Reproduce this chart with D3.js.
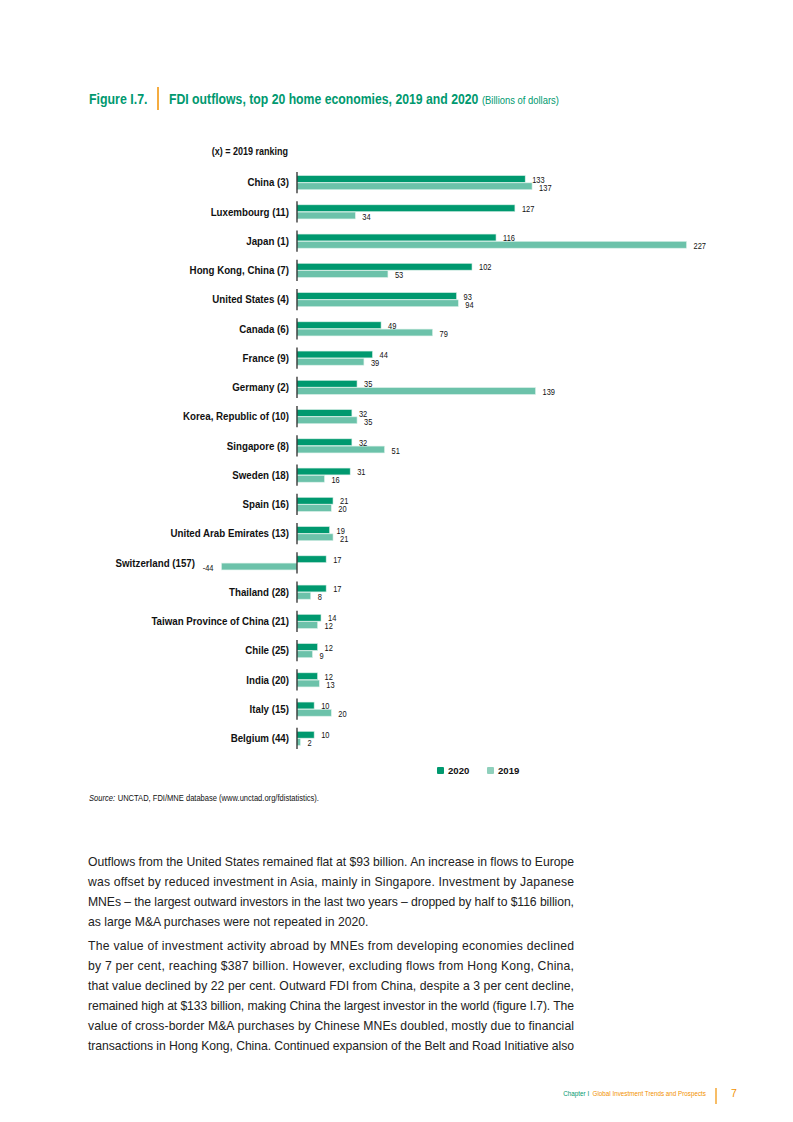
<!DOCTYPE html>
<html>
<head>
<meta charset="utf-8">
<script src="https://cdn.jsdelivr.net/npm/d3@7"></script>
<style>
  html, body { margin: 0; padding: 0; background: #fff; }
  svg { display: block; }
</style>
</head>
<body>
<svg id="page" width="793" height="1122"></svg>
<script>
const economies = [
  "China (3)", "Luxembourg (11)", "Japan (1)", "Hong Kong, China (7)", "United States (4)",
  "Canada (6)", "France (9)", "Germany (2)", "Korea, Republic of (10)", "Singapore (8)",
  "Sweden (18)", "Spain (16)", "United Arab Emirates (13)", "Switzerland (157)", "Thailand (28)",
  "Taiwan Province of China (21)", "Chile (25)", "India (20)", "Italy (15)", "Belgium (44)"
];
const values2020 = [133, 127, 116, 102, 93, 49, 44, 35, 32, 32, 31, 21, 19, 17, 17, 14, 12, 12, 10, 10];
const values2019 = [137, 34, 227, 53, 94, 79, 39, 139, 35, 51, 16, 20, 21, -44, 8, 12, 9, 13, 20, 2];
const seriesKeys = ["2020", "2019"];

// the second paragraph runs on to the next page, so its last line is justified too
const bodyParagraphs = [
  { ends: true, lines: [
    "Outflows from the United States remained flat at $93 billion. An increase in flows to Europe",
    "was offset by reduced investment in Asia, mainly in Singapore. Investment by Japanese",
    "MNEs \u2013 the largest outward investors in the last two years \u2013 dropped by half to $116 billion,",
    "as large M&A purchases were not repeated in 2020."
  ]},
  { ends: false, lines: [
    "The value of investment activity abroad by MNEs from developing economies declined",
    "by 7 per cent, reaching $387 billion. However, excluding flows from Hong Kong, China,",
    "that value declined by 22 per cent. Outward FDI from China, despite a 3 per cent decline,",
    "remained high at $133 billion, making China the largest investor in the world (figure I.7). The",
    "value of cross-border M&A purchases by Chinese MNEs doubled, mostly due to financial",
    "transactions in Hong Kong, China. Continued expansion of the Belt and Road Initiative also"
  ]}
];

const GREEN = "#00996f";
const LIGHT = "#6cc2aa";
const LEGEND_LIGHT = "#8fd0bc";
const ORANGE = "#f29100";
const SANS = "'Liberation Sans', Arial, Helvetica, sans-serif";

// no narrow face installed, so place a text at (x, y) and squeeze Liberation Sans
function narrow(sel, xPos, yPos, squeeze = 0.86) {
  return sel
    .attr("font-family", SANS)
    .attr("transform", function(d, i) {
      const px = typeof xPos === "function" ? xPos.call(this, d, i) : xPos;
      const py = typeof yPos === "function" ? yPos.call(this, d, i) : yPos;
      return `translate(${px},${py}) scale(${squeeze},1)`;
    });
}

const rows = economies.map((name, i) => ({
  name,
  values: [
    { key: "2020", value: values2020[i] },
    { key: "2019", value: values2019[i] }
  ]
}));

const svg = d3.select("#page");

// Title
const title = svg.append("g");
title.append("text")
  .call(narrow, 89, 104, 0.885)
  .attr("font-weight", "bold").attr("font-size", 14)
  .attr("fill", GREEN)
  .text("Figure I.7.");
title.append("line")
  .attr("x1", 158).attr("x2", 158).attr("y1", 87).attr("y2", 110)
  .attr("stroke", ORANGE).attr("stroke-width", 1.5);
const titleText = title.append("text")
  .call(narrow, 169, 104, 0.875)
  .attr("fill", GREEN);
titleText.append("tspan").attr("font-weight", "bold").attr("font-size", 14)
  .text("FDI outflows, top 20 home economies, 2019 and 2020");
titleText.append("tspan").attr("font-size", 10.8).attr("dx", 4)
  .text("(Billions of dollars)");

// Scales
const x = d3.scaleLinear()
  .domain([-44, 227])
  .range([221.5, 686.5]);

const y = d3.scaleBand()
  .domain(economies)
  .range([168, 753])
  .paddingInner(0.487)
  .paddingOuter(0.2435);

const ySeries = d3.scaleBand()
  .domain(seriesKeys)
  .range([0, y.bandwidth()])
  .padding(0.06);

const colour = d3.scaleOrdinal().domain(seriesKeys).range([GREEN, LIGHT]);

const chart = svg.append("g");

chart.append("text")
  .call(narrow, 288, 155, 0.9)
  .attr("text-anchor", "end")
  .attr("font-weight", "bold").attr("font-size", 10)
  .attr("fill", "#111")
  .text("(x) = 2019 ranking");

const groups = chart.selectAll(".group")
  .data(rows)
  .join("g")
  .attr("class", "group")
  .attr("transform", d => `translate(0,${y(d.name)})`);

groups.selectAll(".bar")
  .data(d => d.values)
  .join("rect")
  .attr("class", "bar")
  .attr("x", d => x(Math.min(0, d.value)))
  .attr("y", d => ySeries(d.key))
  .attr("width", d => Math.abs(x(d.value) - x(0)))
  .attr("height", ySeries.bandwidth())
  .attr("fill", d => colour(d.key))
  .attr("stroke", "#d9f0e8")
  .attr("stroke-width", 0.6);

// axis segment for each group
groups.append("line")
  .attr("x1", x(0)).attr("x2", x(0))
  .attr("y1", -3).attr("y2", y.bandwidth() + 3)
  .attr("stroke", "#1a1a1a").attr("stroke-width", 1.2);

groups.selectAll(".value")
  .data(d => d.values)
  .join("text")
  .attr("class", "value")
  .call(narrow,
    d => d.value < 0 ? x(d.value) - 8 : x(d.value) + 7,
    d => ySeries(d.key) + ySeries.bandwidth() / 2 + (d.key === "2020" ? 0.8 : 1.6),
    0.83)
  .attr("dominant-baseline", "central")
  .attr("text-anchor", d => d.value < 0 ? "end" : "start")
  .attr("font-size", 9)
  .attr("fill", "#111")
  .text(d => d.value);

groups.append("text")
  .call(narrow,
    d => {
      const minVal = d3.min(d.values, v => v.value);
      return minVal < 0 ? x(minVal) - 26.5 : x(0) - 8;
    },
    y.bandwidth() / 2,
    0.885)
  .attr("dominant-baseline", "central")
  .attr("text-anchor", "end")
  .attr("font-weight", "bold").attr("font-size", 11)
  .attr("fill", "#111")
  .text(d => d.name);

// Legend
const legend = svg.append("g").attr("transform", "translate(437,767)");
const legendItems = legend.selectAll("g")
  .data(seriesKeys)
  .join("g")
  .attr("transform", (d, i) => `translate(${i * 50},0)`);
legendItems.append("rect")
  .attr("width", 7).attr("height", 7).attr("rx", 1)
  .attr("fill", d => d === "2020" ? GREEN : LEGEND_LIGHT);
legendItems.append("text")
  .call(narrow, 11, 3.7, 0.98)
  .attr("dominant-baseline", "central")
  .attr("font-weight", "bold").attr("font-size", 9.8)
  .attr("fill", "#111")
  .text(d => d);

// Source
const source = svg.append("text")
  .call(narrow, 89, 801, 0.89)
  .attr("font-size", 8.5)
  .attr("fill", "#111");
source.append("tspan").attr("font-style", "italic").text("Source:");
source.append("tspan").attr("dx", 3).text("UNCTAD, FDI/MNE database (www.unctad.org/fdistatistics).");

// Body text, justified line by line
const body = svg.append("g").attr("font-family", SANS).attr("font-size", 12.2).attr("fill", "#222");
const paraTops = [866, 950];
bodyParagraphs.forEach((para, p) => {
  para.lines.forEach((line, i) => {
    const t = body.append("text")
      .attr("x", 88)
      .attr("y", paraTops[p] + i * 20)
      .text(line);
    if (i < para.lines.length - 1 || !para.ends) {
      t.attr("textLength", 486).attr("lengthAdjust", "spacing");
    }
  });
});

// Footer
const footer = svg.append("g").attr("font-size", 7.5);
const footerText = footer.append("text")
  .call(narrow, 706, 1096, 0.84)
  .attr("text-anchor", "end");
footerText.append("tspan").attr("fill", GREEN).text("Chapter I");
footerText.append("tspan").attr("fill", ORANGE).attr("dx", 4).text("Global Investment Trends and Prospects");
footer.append("line")
  .attr("x1", 716).attr("x2", 716).attr("y1", 1088).attr("y2", 1104)
  .attr("stroke", ORANGE).attr("stroke-width", 1.2);
footer.append("text")
  .attr("x", 731).attr("y", 1097)
  .attr("font-family", SANS).attr("font-size", 10.5).attr("fill", ORANGE)
  .text("7");
</script>
</body>
</html>
